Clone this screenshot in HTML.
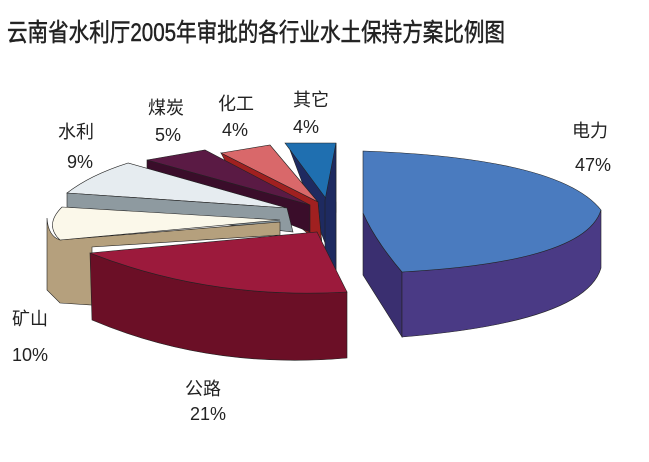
<!DOCTYPE html>
<html><head><meta charset="utf-8"><style>
html,body{margin:0;padding:0;background:#fff;}
svg{display:block;}
text{font-family:"Liberation Sans","Noto Sans CJK SC",sans-serif;fill:#222;}
</style></head><body>
<svg width="649" height="462" viewBox="0 0 649 462" xmlns="http://www.w3.org/2000/svg" stroke="#222" stroke-width="0.6">
<text x="7" y="41" font-size="25" textLength="498" lengthAdjust="spacingAndGlyphs" stroke="#222" stroke-width="0.5">云南省水利厅2005年审批的各行业水土保持方案比例图</text>

<path d="M290,150 L336,272 L336,202 Z" fill="#1e2a60"/>
<path d="M285,143 L336,143 L336,212 Z" fill="#1f6fb0"/>
<path d="M336,143 L336,272 L325,262 L325,200 Z" fill="#1e2a60"/>

<path d="M318,202 L322,245 L310,240 L306,200 Z" fill="#a02020"/>
<path d="M221,153 L270,145 L318,202 Z" fill="#d9686a"/>
<path d="M221,153 L318,202 L322,245 L230,170 Z" fill="#a02020"/>

<path d="M147,160 L205,150 L310,205 Z" fill="#5a1a44"/>
<path d="M147,160 L310,205 L310,232 L147,170 Z" fill="#3a0d2a"/>

<path d="M67,193 Q90,175 128,163 L287,208 Z" fill="#e6ecf0"/>
<path d="M67,193 L287,208 L293,232 L67,207 Z" fill="#8e9aa0"/>

<path d="M47,218 Q48,236 60,240 L280,222 L280,235 L92,247 L92,305 L60,303 L47,290 Z" fill="#b5a07d"/>
<path d="M62,207 L280,220 L60,240 Q44,225 62,207 Z" fill="#fbf8ea"/>

<path d="M90,253 Q210,300 347,292 L347,358 Q210,370 92,320 Z" fill="#6b0f26"/>
<path d="M90,253 L317,232 L347,292 Q210,300 90,253 Z" fill="#9c1a3c"/>

<path d="M363,213 Q375,240 402,272 L402,337 L363,275 Z" fill="#3a2f70"/>
<path d="M402,272 Q580,260 601,210 L601,268 Q585,322 402,337 Z" fill="#4a3a85"/>
<path d="M363,151 Q560,158 601,210 Q585,262 402,272 Q375,240 363,213 Z" fill="#4a7bbf"/>

<g stroke="none" font-size="18">
<text x="572" y="137">电力</text>
<text x="575" y="171">47%</text>
<text x="293" y="106">其它</text>
<text x="293" y="133">4%</text>
<text x="218" y="110">化工</text>
<text x="222" y="136">4%</text>
<text x="148" y="114">煤炭</text>
<text x="155" y="141">5%</text>
<text x="58" y="138">水利</text>
<text x="67" y="168">9%</text>
<text x="12" y="325">矿山</text>
<text x="12" y="361">10%</text>
<text x="185" y="395">公路</text>
<text x="190" y="420">21%</text>
</g>
</svg>
</body></html>
